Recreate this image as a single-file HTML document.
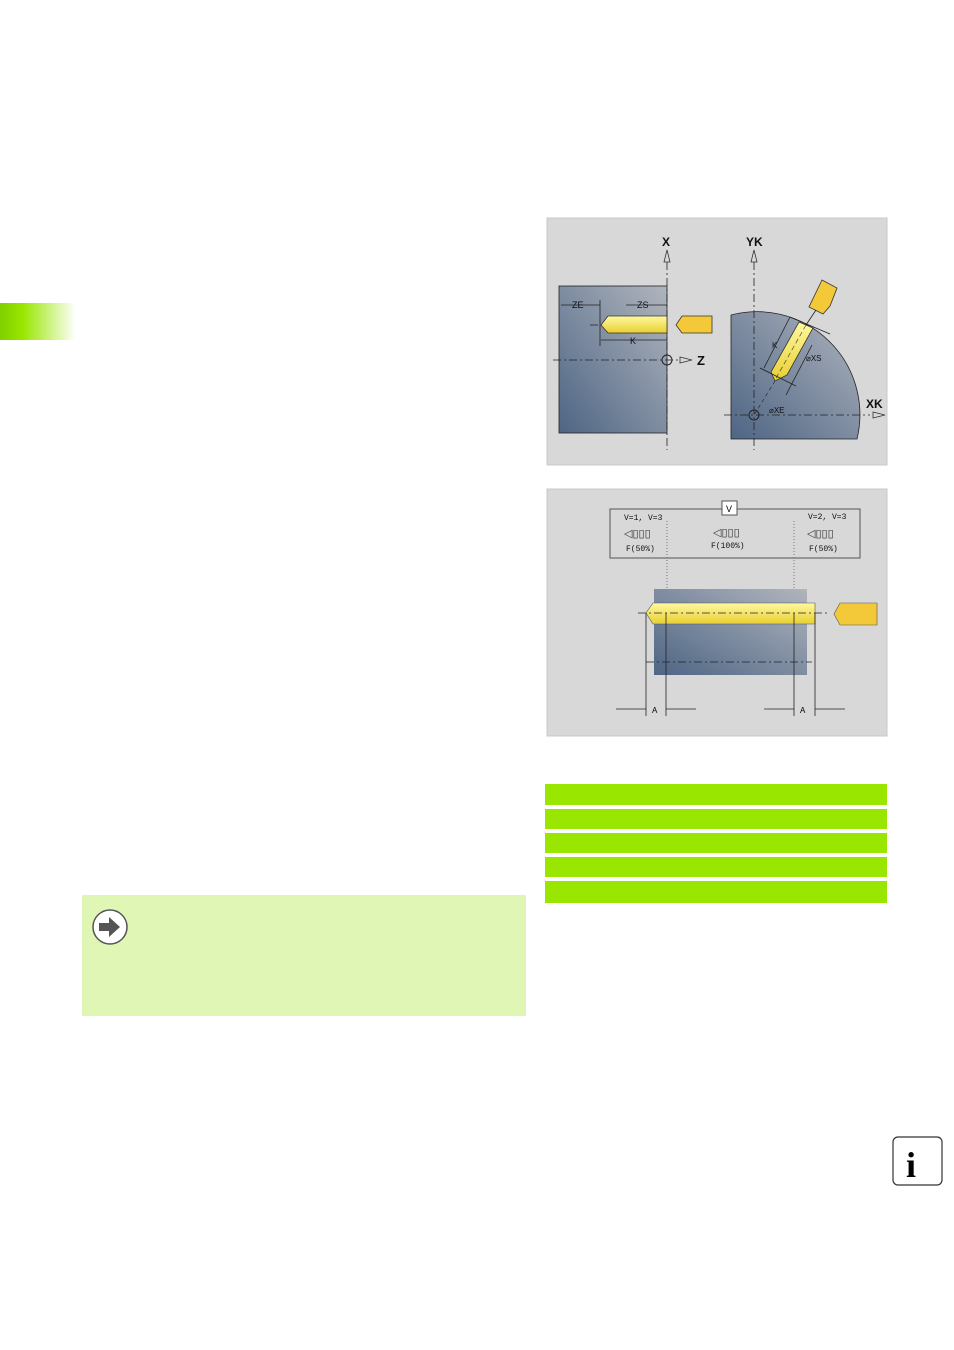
<!DOCTYPE html>
<html><head><meta charset="utf-8"><style>
body{margin:0;width:954px;height:1350px;background:#fff;position:relative;font-family:"Liberation Sans",sans-serif;overflow:hidden}
.a{position:absolute}
</style></head><body>
<div class="a" style="left:0;top:303px;width:76px;height:37px;background:linear-gradient(90deg,#7fd000,#99e600 30%,#ffffff)"></div>
<svg class="a" style="left:0;top:0" width="954" height="1350" font-family="Liberation Sans Narrow, Liberation Sans, sans-serif">
<defs>
<linearGradient id="g" x1="0" y1="1" x2="1" y2="0"><stop offset="0" stop-color="#4e6584"/><stop offset="1" stop-color="#b0b5be"/></linearGradient>
<linearGradient id="y" x1="0" y1="0" x2="0" y2="1"><stop offset="0" stop-color="#fff8a0"/><stop offset="1" stop-color="#e8d030"/></linearGradient>
</defs>
<!-- diagram 1 -->
<rect x="547" y="218" width="340" height="247" fill="#d8d8d8" stroke="#c8c8c8"/>
<rect x="559" y="286" width="108" height="147" fill="url(#g)" stroke="#222" stroke-width="0.8"/>
<path d="M731,439 L731,315 A103,103 0 0 1 857,439 Z" fill="url(#g)" stroke="#222" stroke-width="0.8"/>
<g stroke="#222" stroke-width="0.8" stroke-dasharray="8,3,2,3" fill="none">
<line x1="667" y1="262" x2="667" y2="450"/><line x1="553" y1="360" x2="680" y2="360"/>
<line x1="754" y1="262" x2="754" y2="450"/><line x1="724" y1="415" x2="870" y2="415"/>
<line x1="590" y1="325" x2="667" y2="325"/>
</g>
<path d="M667,250 l-3,12 h6 z M754,250 l-3,12 h6 z M692,360 l-12,-3 v6 z M885,415 l-12,-3 v6 z" fill="none" stroke="#333" stroke-width="0.8"/>
<path d="M608,316 H667 V333 H608 L601,325 Z" fill="url(#y)" stroke="#333" stroke-width="0.8"/>
<path d="M682,316 H712 V333 H682 L676,325 Z" fill="#f3c93a" stroke="#333" stroke-width="0.8"/>
<path d="M799,322 L813,328 L787,375 L775,381 L771,372 Z" fill="url(#y)" stroke="#333" stroke-width="0.8"/>
<line x1="806" y1="325" x2="775" y2="380" stroke="#333" stroke-width="0.6" stroke-dasharray="5,3"/>
<path d="M822,280 L837,288 L830,306 L823,314 L809,307 Z" fill="#f3c93a" stroke="#333" stroke-width="0.8"/>
<line x1="816" y1="310" x2="806" y2="325" stroke="#222" stroke-width="0.8"/>
<line x1="775" y1="381" x2="754" y2="415" stroke="#222" stroke-width="0.6" stroke-dasharray="4,3"/>
<circle cx="667" cy="360" r="5" fill="none" stroke="#222"/><circle cx="754" cy="415" r="5" fill="none" stroke="#222"/>
<g stroke="#222" stroke-width="0.8">
<line x1="561" y1="305" x2="600" y2="305"/><line x1="600" y1="300" x2="600" y2="346"/>
<line x1="626" y1="305" x2="667" y2="305"/><line x1="601" y1="340" x2="667" y2="340"/>
<line x1="764" y1="368" x2="790" y2="317"/><line x1="786" y1="395" x2="812" y2="345"/>
<line x1="790" y1="317" x2="830" y2="334" /><line x1="760" y1="368" x2="796" y2="386"/>
</g>
<g font-size="10" fill="#111" font-weight="bold">
<text x="662" y="246" font-size="12">X</text><text x="746" y="246" font-size="12">YK</text>
<text x="697" y="365" font-size="13">Z</text><text x="866" y="408" font-size="12">XK</text>
<text x="572" y="308" font-size="9" font-weight="normal">ZE</text><text x="637" y="308" font-size="9" font-weight="normal">ZS</text>
<text x="630" y="344" font-size="9" font-weight="normal">K</text><text x="772" y="348" font-size="8" font-weight="normal">K</text>
<text x="806" y="361" font-size="8" font-weight="normal">⌀XS</text><text x="769" y="413" font-size="8" font-weight="normal">⌀XE</text>
</g>
<!-- diagram 2 -->
<rect x="547" y="489" width="340" height="247" fill="#d8d8d8" stroke="#c8c8c8"/>
<rect x="610" y="509" width="250" height="49" fill="none" stroke="#555"/>
<rect x="722" y="501" width="15" height="14" fill="#fff" stroke="#555"/>
<text x="726" y="512" font-size="9">V</text>
<g font-size="8" font-family="Liberation Mono, monospace" fill="#111">
<text x="624" y="520">V=1, V=3</text><text x="808" y="519">V=2, V=3</text>
<text x="626" y="551">F(50%)</text><text x="711" y="548">F(100%)</text><text x="809" y="551">F(50%)</text>
</g>
<g font-size="11" fill="#333"><text x="624" y="537">◁▯▯▯</text><text x="713" y="536">◁▯▯▯</text><text x="807" y="537">◁▯▯▯</text></g>
<line x1="667" y1="521" x2="667" y2="589" stroke="#777" stroke-dasharray="1,2"/>
<line x1="794" y1="521" x2="794" y2="589" stroke="#777" stroke-dasharray="1,2"/>
<rect x="654" y="589" width="153" height="86" fill="url(#g)"/>
<path d="M653,603 H815 V624 H653 L646,613 Z" fill="url(#y)" stroke="#555" stroke-width="0.6"/>
<path d="M840,603 H877 V625 H840 L834,614 Z" fill="#f3c93a" stroke="#555" stroke-width="0.6"/>
<g stroke="#222" stroke-width="0.8">
<line x1="638" y1="613" x2="830" y2="613" stroke-dasharray="8,3,2,3"/>
<line x1="646" y1="662" x2="812" y2="662" stroke-dasharray="8,3,2,3"/>
<line x1="646" y1="613" x2="646" y2="716"/><line x1="666" y1="613" x2="666" y2="716"/>
<line x1="794" y1="613" x2="794" y2="716"/><line x1="815" y1="613" x2="815" y2="716"/>
<line x1="616" y1="709" x2="646" y2="709"/><line x1="666" y1="709" x2="696" y2="709"/>
<line x1="764" y1="709" x2="794" y2="709"/><line x1="815" y1="709" x2="845" y2="709"/>
</g>
<text x="652" y="713" font-size="8">A</text><text x="800" y="713" font-size="8">A</text>
<!-- green bars -->
<g fill="#99e600"><rect x="545" y="784" width="342" height="21"/><rect x="545" y="809" width="342" height="20"/><rect x="545" y="833" width="342" height="20"/><rect x="545" y="857" width="342" height="20"/><rect x="545" y="881" width="342" height="22"/></g>
<!-- note -->
<rect x="82" y="895" width="444" height="121" fill="#dff6b4"/>
<circle cx="110" cy="927" r="17" fill="#fff" stroke="#555" stroke-width="1.5"/>
<path d="M99,923 h10 v-6 l11,10 l-11,10 v-6 h-10 z" fill="#555"/>
<!-- info -->
<rect x="893" y="1137" width="49" height="48" rx="5" fill="#fff" stroke="#333" stroke-width="1.2"/>
<text x="906" y="1177" font-size="36" font-weight="bold" font-family="Liberation Serif, serif">i</text>
</svg>
</body></html>
